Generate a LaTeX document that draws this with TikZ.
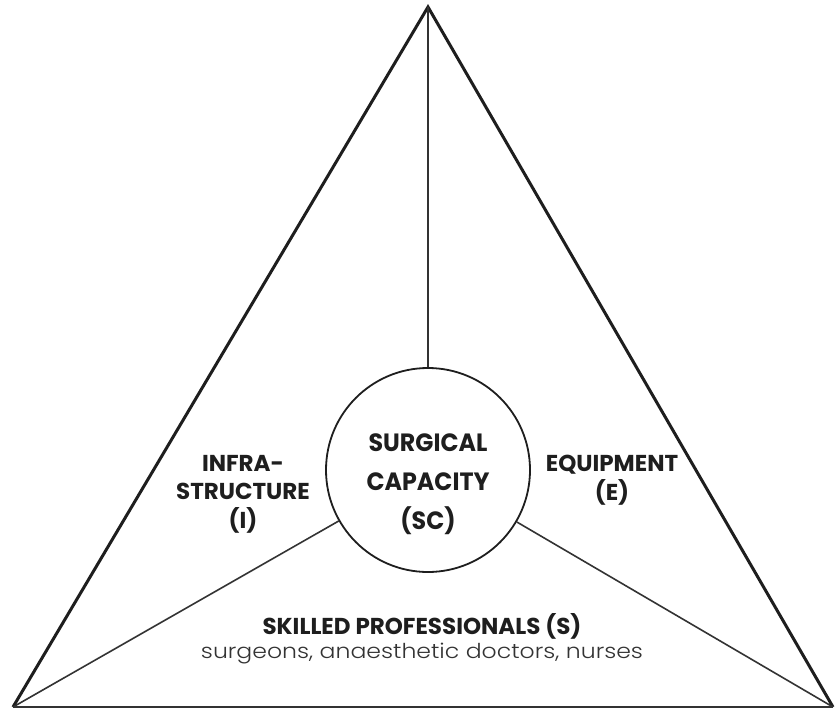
\documentclass[tikz,border=0pt]{standalone}
\usepackage{fontspec}
\setmainfont{Poppins}
\newfontfamily\capsfont{Poppins}
\newfontfamily\bigcapsfont[FakeStretch=0.95]{Poppins}
\newfontfamily\subfont[FakeStretch=1.15]{Poppins Light}
\definecolor{ink}{HTML}{1E1E1E}
\definecolor{inner}{HTML}{333333}
\definecolor{sub}{HTML}{333333}
\begin{document}
\begin{tikzpicture}[x=1pt,y=-1pt,
  sideedge/.style={draw=ink,line width=3pt,line join=miter},
  baseedge/.style={draw=inner,line width=2.2pt},
  spoke/.style={draw=inner,line width=1.6pt},
  hub/.style={circle,draw=ink,line width=1.8pt,minimum size=204pt,inner sep=0pt},
  bigcaps/.style={align=center,inner sep=0pt,text=ink,font=\bigcapsfont\bfseries\fontsize{25}{39}\selectfont},
  capslabel/.style={align=center,inner sep=0pt,text=ink,font=\capsfont\bfseries\fontsize{23}{28.5}\selectfont},
  subtxt/.style={inner sep=0pt,text=sub,font=\subfont\fontsize{20.5}{24}\selectfont}]
\useasboundingbox (0,0) rectangle (837,709);
\fill[white] (0,0) rectangle (837,709);
\coordinate (A) at (428,7);
\coordinate (L) at (13,707);
\coordinate (R) at (833,707);
\node[hub] (sc) at (428,470) {};
\draw[sideedge] (L) -- (A) -- (R);
\draw[baseedge] (L) -- (R);
\draw[spoke] (A) -- (sc);
\draw[spoke] (sc) -- (L);
\draw[spoke] (sc) -- (R);
\node[bigcaps] (sctext) at (428,484) {SURGICAL\\CAPACITY\\(SC)};
\node[capslabel] (infra) at (243,494) {INFRA-\\STRUCTURE\\(I)};
\node[capslabel] (equip) at (612,480) {EQUIPMENT\\(E)};
\node[capslabel] (skilled) at (422,626) {SKILLED PROFESSIONALS (S)};
\node[subtxt] (subt) at (422,654) {surgeons, anaesthetic doctors, nurses};
\end{tikzpicture}
\end{document}
